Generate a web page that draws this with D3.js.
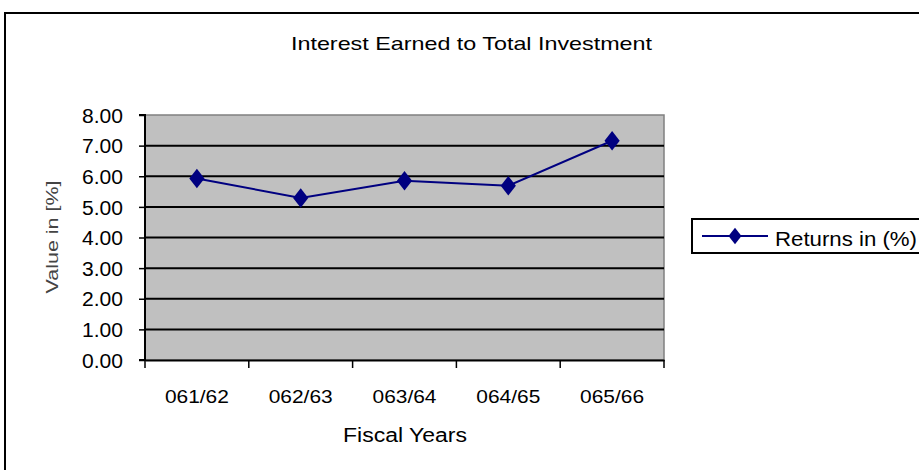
<!DOCTYPE html>
<html><head><meta charset="utf-8">
<script src="https://cdn.jsdelivr.net/npm/d3@7"></script>
<style>body{margin:0;background:#fff}svg{display:block}text{font-family:Arial,"Liberation Sans",sans-serif}</style>
</head><body>
<script>
const categories = ["061/62","062/63","063/64","064/65","065/66"];
const returns = [5.93, 5.29, 5.85, 5.69, 7.16];
const yTicks = [0,1,2,3,4,5,6,7,8];
const yTickLabels = ["0.00","1.00","2.00","3.00","4.00","5.00","6.00","7.00","8.00"];
const seriesName = "Returns in (%)";
const title = "Interest Earned to Total Investment";
const xTitle = "Fiscal Years";
const yTitle = "Value in [%]";

const W=919,H=470;
const svg=d3.select("body").append("svg").attr("width",W).attr("height",H);
svg.append("rect").attr("x",5).attr("y",13).attr("width",940).attr("height",480).attr("fill","#fff").attr("stroke","#000").attr("stroke-width",2);

const L=145,R=664,T=115,B=360;
const x=d3.scaleBand().domain(categories).range([L,R]);
const y=d3.scaleLinear().domain([0,8]).range([B,T]);

svg.append("rect").attr("x",L).attr("y",T).attr("width",R-L).attr("height",B-T).attr("fill","#c0c0c0").attr("stroke","#808080").attr("stroke-width",1.5);

svg.append("g").selectAll("line").data(yTicks.filter(d=>d>0&&d<8)).join("line")
  .attr("x1",L).attr("x2",R).attr("y1",d=>y(d)).attr("y2",d=>y(d)).attr("stroke","#000").attr("stroke-width",2);

const yAxis=svg.append("g").attr("transform",`translate(${L},0)`)
  .call(d3.axisLeft(y).tickValues(yTicks).tickFormat((d,i)=>yTickLabels[i]).tickSize(6).tickPadding(16));
yAxis.select(".domain").attr("stroke","#000").attr("stroke-width",2).attr("d",`M-6,${T}H0V${B}H-6`);
yAxis.selectAll(".tick line").attr("stroke","#000").attr("stroke-width",1.5);
yAxis.selectAll("text").attr("font-size",20).attr("fill","#000").attr("dy","0.36em")
  .attr("textLength",41).attr("lengthAdjust","spacingAndGlyphs");

const xAxis=svg.append("g").attr("transform",`translate(0,${B})`)
  .call(d3.axisBottom(x).tickSize(0).tickPadding(30));
xAxis.select(".domain").attr("stroke","#000").attr("stroke-width",2);
xAxis.selectAll("text").attr("font-size",18).attr("fill","#000").attr("dy","0.71em")
  .attr("textLength",64).attr("lengthAdjust","spacingAndGlyphs");
const bounds=categories.map(c=>x(c)).concat([R]);
svg.append("g").selectAll("line").data(bounds).join("line")
  .attr("x1",d=>d).attr("x2",d=>d).attr("y1",B).attr("y2",B+8).attr("stroke","#000").attr("stroke-width",1.5);

const cx=d=>x(d)+x.bandwidth()/2;
const line=d3.line().x((d,i)=>cx(categories[i])).y(d=>y(d));
svg.append("path").datum(returns).attr("d",line).attr("fill","none").attr("stroke","#000080").attr("stroke-width",2);
const diamond=d3.symbol().type(d3.symbolDiamond).size(110);
svg.append("g").selectAll("path").data(returns).join("path")
  .attr("d",diamond).attr("transform",(d,i)=>`translate(${cx(categories[i])},${y(d)}) scale(1.35,1)`).attr("fill","#000080");

svg.append("text").attr("x",471.5).attr("y",50).attr("text-anchor","middle").attr("font-size",18.5)
  .attr("textLength",361).attr("lengthAdjust","spacingAndGlyphs").text(title);
svg.append("text").attr("x",405).attr("y",442).attr("text-anchor","middle").attr("font-size",19.5)
  .attr("textLength",124).attr("lengthAdjust","spacingAndGlyphs").text(xTitle);
svg.append("text").attr("transform","translate(58,237) rotate(-90)").attr("text-anchor","middle").attr("font-size",16).attr("fill","#444")
  .attr("textLength",113).attr("lengthAdjust","spacingAndGlyphs").text(yTitle);

const lg=svg.append("g");
lg.append("rect").attr("x",692).attr("y",219).attr("width",240).attr("height",34).attr("fill","#fff").attr("stroke","#000").attr("stroke-width",2);
lg.append("line").attr("x1",702).attr("x2",768).attr("y1",236).attr("y2",236).attr("stroke","#000080").attr("stroke-width",2);
lg.append("path").attr("d",d3.symbol().type(d3.symbolDiamond).size(80)).attr("transform","translate(735,236) scale(1.35,1)").attr("fill","#000080");
lg.append("text").attr("x",775).attr("y",246).attr("font-size",20)
  .attr("textLength",142).attr("lengthAdjust","spacingAndGlyphs").text(seriesName);
</script>
</body></html>
